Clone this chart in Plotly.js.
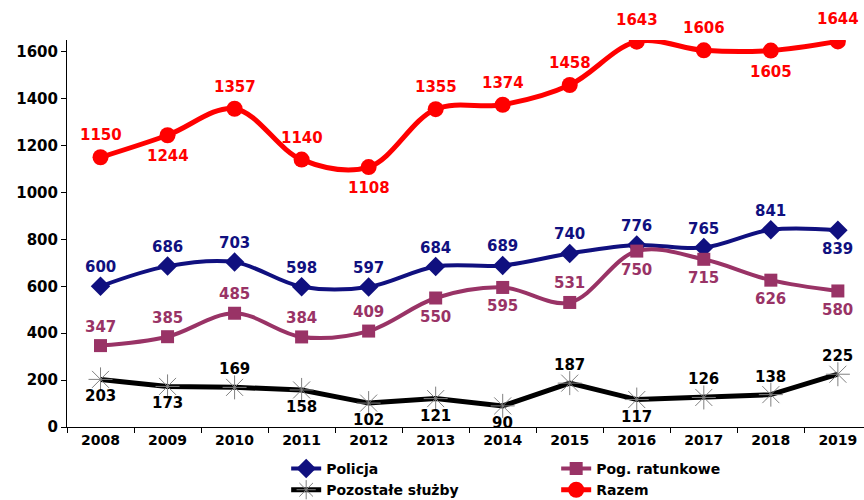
<!DOCTYPE html>
<html>
<head>
<meta charset="utf-8">
<script src="https://cdn.plot.ly/plotly-3.0.1.min.js"></script>
<style>html,body{margin:0;padding:0;background:#fff;}#chart{width:864px;height:500px;}</style>
</head>
<body>
<div id="chart"></div>
<script>
const years = ['2008','2009','2010','2011','2012','2013','2014','2015','2016','2017','2018','2019'];
const policja = [600, 686, 703, 598, 597, 684, 689, 740, 776, 765, 841, 839];
const pogRatunkowe = [347, 385, 485, 384, 409, 550, 595, 531, 750, 715, 626, 580];
const pozostale = [203, 173, 169, 158, 102, 121, 90, 187, 117, 126, 138, 225];
const razem = [1150, 1244, 1357, 1140, 1108, 1355, 1374, 1458, 1643, 1606, 1605, 1644];
// label side: 'a' above, 'b' below
const policjaSide = ['a','a','a','a','a','a','a','a','a','a','a','b'];
const pogSide = ['a','a','a','a','a','b','b','a','b','b','b','b'];
const pozSide = ['b','b','a','b','b','b','b','a','b','a','a','a'];
const razemSide = ['a','b','a','a','b','a','a','a','a','a','b','a'];

const FONT = 'DejaVu Sans, Arial, sans-serif';
const BLUE = '#10107f', PLUM = '#993366', RED = '#ff0000', BLACK = '#000000';

const traces = [
  {name:'Policja', x:years, y:policja, type:'scatter', mode:'lines+markers',
   line:{color:BLUE, width:4, shape:'spline', smoothing:1},
   marker:{symbol:'diamond', size:15, color:BLUE}},
  {name:'Pog. ratunkowe', x:years, y:pogRatunkowe, type:'scatter', mode:'lines+markers',
   line:{color:PLUM, width:4, shape:'spline', smoothing:1},
   marker:{symbol:'square', size:13, color:PLUM}},
  {name:'Pozostałe służby', x:years, y:pozostale, type:'scatter', mode:'lines+markers',
   line:{color:BLACK, width:5},
   marker:{symbol:'asterisk-open', size:20, color:'#808080', line:{color:'#808080', width:1}}},
  {name:'Razem', x:years, y:razem, type:'scatter', mode:'lines+markers',
   line:{color:RED, width:5, shape:'spline', smoothing:1},
   marker:{symbol:'circle', size:16, color:RED}}
];

const annotations = [];
function addLabels(vals, sides, color, up, down){
  vals.forEach((v,i)=>{
    annotations.push({x:i, y:v, xref:'x', yref:'y', text:String(v), showarrow:false,
      yshift: sides[i]==='a' ? up : -down,
      font:{family:FONT, size:15, color:color}});
  });
}
addLabels(policja, policjaSide, BLUE, 19, 19);
addLabels(pogRatunkowe, pogSide, PLUM, 19, 19);
addLabels(pozostale, pozSide, BLACK, 18, 17);
addLabels(razem, razemSide, RED, 22, 21);

const layout = {
  width:864, height:500,
  margin:{l:67, r:0, t:40, b:73, autoexpand:false},
  paper_bgcolor:'#ffffff', plot_bgcolor:'#ffffff',
  showlegend:true,
  font:{family:FONT, size:14, color:'#000', weight:'bold'},
  xaxis:{type:'category', range:[-0.5, 11.39], showgrid:false, zeroline:false,
    showline:true, linecolor:'#000', linewidth:1, automargin:false,
    ticks:'outside', tickson:'boundaries', ticklen:5, tickcolor:'#000',
    tickfont:{family:FONT, size:14, color:'#000', weight:'bold'}},
  yaxis:{range:[0, 1650], tickvals:[0,200,400,600,800,1000,1200,1400,1600], showgrid:false, zeroline:false,
    showline:true, linecolor:'#000', linewidth:1, automargin:false,
    ticks:'outside', ticklen:5, tickcolor:'#000',
    tickfont:{family:FONT, size:15, color:'#000', weight:'bold'}},
  legend:{orientation:'h', x:0.275, xanchor:'left', y:-0.067, yanchor:'top',
    entrywidth:225, entrywidthmode:'pixels', bgcolor:'rgba(0,0,0,0)',
    font:{family:FONT, size:14, color:'#000', weight:'bold'}},
  annotations:annotations
};

Plotly.newPlot('chart', traces, layout, {displayModeBar:false, staticPlot:true});
</script>
</body>
</html>
